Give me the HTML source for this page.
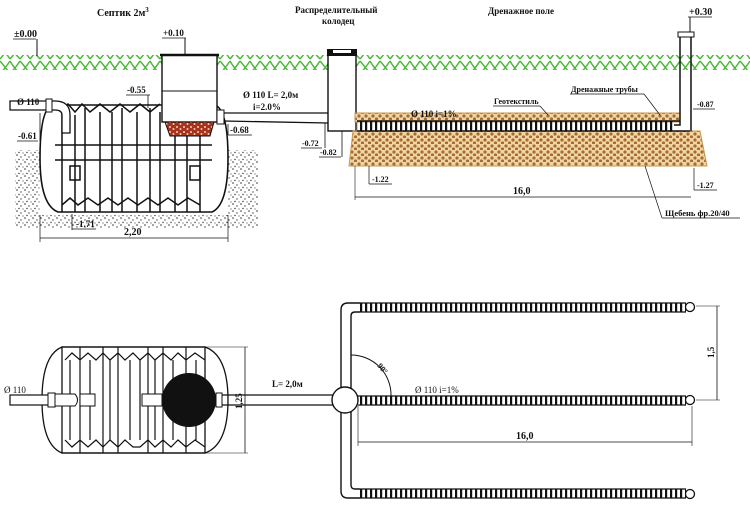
<!DOCTYPE html>
<html><head><meta charset="utf-8"><style>
html,body{margin:0;padding:0;background:#fff;}
svg{display:block;}
text{font-family:"Liberation Serif",serif;font-weight:bold;fill:#111;}
</style></head><body>
<svg width="750" height="506" viewBox="0 0 750 506" xmlns="http://www.w3.org/2000/svg">
<defs>
<pattern id="grass" width="20" height="15" patternUnits="userSpaceOnUse">
<path d="M0,1 Q6,8 10,14 M10,1 Q14,8 20,14 M0,14 Q6,7 10,1 M10,14 Q16,7 20,1" stroke="#4cb83a" stroke-width="1.5" fill="none"/>
</pattern>
<pattern id="grav" width="7" height="6" patternUnits="userSpaceOnUse">
<rect width="7" height="6" fill="#f0d6a4"/>
<circle cx="2" cy="2" r="1.6" fill="#a86a30"/>
<circle cx="5.5" cy="5" r="1.6" fill="#a86a30"/>
</pattern>
<pattern id="red" width="7" height="5" patternUnits="userSpaceOnUse">
<rect width="7" height="5" fill="#a8321e"/>
<circle cx="2" cy="2" r="1" fill="#f3d2b0"/>
<circle cx="5.5" cy="4" r="1" fill="#f3d2b0"/>
</pattern>
<pattern id="rib" width="5" height="12" patternUnits="userSpaceOnUse">
<rect x="0" y="0" width="2.2" height="12" fill="#111"/>
</pattern>
<pattern id="speck" width="8" height="7" patternUnits="userSpaceOnUse">
<circle cx="1" cy="1" r="0.8" fill="#333"/><circle cx="5" cy="3" r="0.7" fill="#444"/>
<circle cx="3" cy="5.5" r="0.7" fill="#333"/><circle cx="7" cy="6" r="0.6" fill="#555"/>
</pattern>
</defs>

<text x="97" y="16" font-size="10">Септик 2м<tspan font-size="7" dy="-4">3</tspan></text>
<text x="295" y="13" font-size="9">Распределительный</text>
<text x="322" y="24" font-size="9">колодец</text>
<text x="488" y="14" font-size="9">Дренажное поле</text>
<text x="689" y="15" font-size="10">+0.30</text>
<line x1="688" y1="17" x2="712" y2="17" stroke="#111" stroke-width="0.8"/>
<line x1="690" y1="17" x2="690" y2="33" stroke="#111"/>

<rect x="0" y="55" width="750" height="15" fill="url(#grass)"/>
<text x="14" y="37" font-size="10">±0.00</text>
<line x1="13" y1="39" x2="36" y2="39" stroke="#111" stroke-width="0.8"/>
<line x1="37" y1="39" x2="37" y2="56" stroke="#111"/>

<path d="M15,150 L40,150 L40,215 L228,215 L228,150 L258,150 L258,228 L15,228 Z" fill="url(#speck)"/>

<path d="M52,105 Q40,110 40,158 Q40,205 58,212 L212,212 Q228,205 228,158 Q228,110 215,105 Z" fill="#fff" stroke="#111" stroke-width="1.6"/>
<g stroke="#111" stroke-width="1.5" fill="none">
<path d="M62,107 L62,212 M75,115 L75,212 M85,108 L85,212 M100,112 L100,212 M112,112 L112,212 M122,108 L122,212 M137,112 L137,212 M150,108 L150,212 M160,112 L160,212 M175,112 L175,212 M187,112 L187,212 M200,108 L200,212"/>
<path d="M60,112 L68,104 L75,112 L82,104 L90,112 L100,104 L110,112 L120,104 L130,112 L140,104 L150,112 L160,104"/>
<path d="M55,145 L212,145 M55,160 L212,160"/>
<path d="M62,205 L70,198 L78,205 L88,198 L98,205 L108,198 L118,205 L128,198 L138,205 L148,198 L158,205 L168,198 L178,205 L188,198 L200,205"/>
<rect x="70" y="166" width="10" height="14"/><rect x="190" y="166" width="10" height="14"/>
</g>
<path d="M10,101 L55,101 Q70,101 70,115 L70,133 L62,133 L62,115 Q62,110 55,110 L10,110 Z" fill="#fff" stroke="#111" stroke-width="1.3"/>
<rect x="46" y="99" width="6" height="13" fill="#fff" stroke="#111"/>
<text x="17" y="105" font-size="9">Ø 110</text>
<text x="18" y="139" font-size="9">-0.61</text>
<line x1="17" y1="141" x2="38" y2="141" stroke="#111" stroke-width="0.8"/>
<line x1="40" y1="113" x2="40" y2="141" stroke="#111" stroke-width="0.8"/>
<rect x="162" y="55" width="55" height="67" fill="#fff" stroke="#111" stroke-width="1.4"/>
<line x1="160" y1="55" x2="219" y2="55" stroke="#111" stroke-width="2.5"/>
<line x1="162" y1="91" x2="217" y2="91" stroke="#111"/>
<path d="M165,122 L214,122 L210,136 L170,136 Z" fill="url(#red)" stroke="#111"/>
<text x="163" y="36" font-size="9">+0.10</text>
<line x1="162" y1="38" x2="186" y2="38" stroke="#111" stroke-width="0.8"/>
<line x1="185" y1="38" x2="185" y2="54" stroke="#111"/>
<text x="127" y="93" font-size="9">-0.55</text>
<line x1="126" y1="95" x2="150" y2="95" stroke="#111" stroke-width="0.8"/>
<line x1="148" y1="95" x2="148" y2="108" stroke="#111" stroke-width="0.8"/>
<rect x="217" y="110" width="7" height="14" fill="#fff" stroke="#111"/>
<path d="M224,113 L328,113 M224,121 L328,123" stroke="#111" stroke-width="1.3"/>
<text x="243" y="98" font-size="9">Ø 110 L= 2,0м</text>
<text x="253" y="110" font-size="9">i=2.0%</text>
<text x="230" y="133" font-size="9">-0.68</text>
<line x1="228" y1="135" x2="252" y2="135" stroke="#111" stroke-width="0.8"/>
<line x1="228" y1="124" x2="228" y2="135" stroke="#111" stroke-width="0.8"/>
<line x1="40" y1="215" x2="40" y2="242" stroke="#111" stroke-width="0.7"/>
<line x1="228" y1="215" x2="228" y2="242" stroke="#111" stroke-width="0.7"/>
<line x1="40" y1="238" x2="228" y2="238" stroke="#111" stroke-width="0.8"/>
<text x="124" y="235" font-size="10">2,20</text>
<text x="76" y="227" font-size="9">-1.71</text>
<line x1="72" y1="214" x2="72" y2="230" stroke="#111" stroke-width="0.8"/>
<line x1="72" y1="229" x2="96" y2="229" stroke="#111" stroke-width="0.8"/>

<rect x="328" y="55" width="28" height="76" fill="#fff" stroke="#111" stroke-width="1.4"/>
<rect x="327" y="49" width="30" height="7" fill="#111"/>
<rect x="333" y="50" width="18" height="3" fill="#fff"/>
<text x="302" y="146" font-size="8">-0.72</text>
<line x1="301" y1="148" x2="322" y2="148" stroke="#111" stroke-width="0.8"/>
<line x1="325" y1="123" x2="325" y2="148" stroke="#111" stroke-width="0.8"/>
<text x="320" y="155" font-size="8">-0.82</text>
<line x1="319" y1="157" x2="341" y2="157" stroke="#111" stroke-width="0.8"/>
<line x1="342" y1="131" x2="342" y2="157" stroke="#111" stroke-width="0.8"/>

<path d="M353,131 L700,131 L707,166 L349,166 Z" fill="url(#grav)" stroke="#c9964f"/>
<rect x="355" y="113" width="325" height="9" fill="url(#grav)" stroke="#c9964f"/>
<rect x="357" y="121" width="317" height="10" fill="url(#rib)"/>
<line x1="357" y1="121" x2="680" y2="121" stroke="#111" stroke-width="1.5"/>
<line x1="357" y1="131" x2="690" y2="131" stroke="#111" stroke-width="1.5"/>
<path d="M680,33 L680,125 L674,125 M691,33 L691,131" stroke="#111" stroke-width="1.5" fill="none"/>
<rect x="678" y="32" width="16" height="5" fill="#fff" stroke="#111"/>
<text x="411" y="117" font-size="9">Ø 110 i=1%</text>
<text x="494" y="104" font-size="8">Геотекстиль</text>
<line x1="493" y1="106" x2="540" y2="106" stroke="#111" stroke-width="0.7"/>
<line x1="540" y1="106" x2="548" y2="115" stroke="#111" stroke-width="0.7"/>
<text x="571" y="92" font-size="8">Дренажные трубы</text>
<line x1="570" y1="94" x2="644" y2="94" stroke="#111" stroke-width="0.7"/>
<line x1="644" y1="94" x2="660" y2="115" stroke="#111" stroke-width="0.7"/>
<text x="697" y="107" font-size="8">-0.87</text>
<line x1="693" y1="109" x2="715" y2="109" stroke="#111" stroke-width="0.7"/>
<text x="372" y="182" font-size="8">-1.22</text>
<line x1="369" y1="166" x2="369" y2="184" stroke="#111" stroke-width="0.7"/>
<line x1="369" y1="184" x2="392" y2="184" stroke="#111" stroke-width="0.7"/>
<text x="697" y="188" font-size="8">-1.27</text>
<line x1="694" y1="168" x2="694" y2="190" stroke="#111" stroke-width="0.7"/>
<line x1="694" y1="190" x2="717" y2="190" stroke="#111" stroke-width="0.7"/>
<line x1="355" y1="166" x2="355" y2="200" stroke="#111" stroke-width="0.6"/>
<line x1="355" y1="197" x2="691" y2="197" stroke="#111" stroke-width="0.8"/>
<text x="513" y="194" font-size="10">16,0</text>
<text x="665" y="216" font-size="8.5">Щебень фр.20/40</text>
<line x1="662" y1="218" x2="740" y2="218" stroke="#111" stroke-width="0.7"/>
<line x1="662" y1="218" x2="645" y2="166" stroke="#111" stroke-width="0.7"/>

<path d="M62,347 Q42,355 42,400 Q42,445 62,453 L205,453 Q228,445 228,400 Q228,355 205,347 Z" fill="#fff" stroke="#111" stroke-width="1.3"/>
<rect x="62" y="347" width="143" height="106" fill="none" stroke="#111" stroke-width="1.3"/>
<g stroke="#111" stroke-width="1.2" fill="none">
<path d="M80,347 V453 M103,347 V453 M118,347 V453 M148,347 V453 M163,347 V453 M186,347 V453"/>
<path d="M65,360 L72,353 L80,360 L88,353 L96,360 L103,353 L110,360 L118,353 L125,360 L133,353 L140,360 L148,353 L155,360 L163,353 L171,360 L178,353 L186,360 L195,353 L205,360"/>
<path d="M65,440 L72,447 L80,440 L88,447 L96,440 L103,447 L110,440 L118,447 L125,440 L133,447 L140,447 L148,440 L155,447 L163,440 L171,447 L178,440 L186,447 L195,440 L205,447"/>
<path d="M70,360 V440 M90,360 V440 M110,360 V440 M130,360 V440 M140,360 V440 M155,360 V440 M173,360 V440 M196,360 V440"/>
</g>
<rect x="10" y="395" width="40" height="10" fill="#fff" stroke="#111" stroke-width="1.2"/>
<rect x="48" y="393" width="7" height="14" fill="#fff" stroke="#111"/>
<path d="M55,394 L75,394 Q80,400 75,406 L55,406 Z" fill="#fff" stroke="#111"/>
<rect x="80" y="394" width="15" height="12" fill="#fff" stroke="#111"/>
<rect x="142" y="394" width="20" height="12" fill="#fff" stroke="#111"/>
<text x="4" y="393" font-size="9" style="font-weight:normal">Ø 110</text>
<circle cx="189" cy="400" r="27" fill="#111"/>
<rect x="216" y="393" width="6" height="14" fill="#fff" stroke="#111"/>
<line x1="222" y1="395" x2="333" y2="395" stroke="#111" stroke-width="1.3"/>
<line x1="222" y1="405" x2="333" y2="405" stroke="#111" stroke-width="1.3"/>
<text x="272" y="387" font-size="9">L= 2,0м</text>
<line x1="205" y1="347" x2="248" y2="347" stroke="#111" stroke-width="0.6"/>
<line x1="205" y1="453" x2="248" y2="453" stroke="#111" stroke-width="0.6"/>
<line x1="245" y1="347" x2="245" y2="453" stroke="#111" stroke-width="0.8"/>
<text x="0" y="0" font-size="9" transform="translate(242,409) rotate(-90)">1,25</text>

<path d="M360,303 L348,303 Q341,303 341,310 L341,491 Q341,498 348,498 L360,498" fill="none" stroke="#111" stroke-width="1.4"/>
<path d="M360,312 L355,312 Q351,312 351,316 L351,485 Q351,489 355,489 L360,489" fill="none" stroke="#111" stroke-width="1.4"/>
<g>
<rect x="360" y="303" width="326" height="9" fill="url(#rib)"/>
<line x1="360" y1="303" x2="686" y2="303" stroke="#111" stroke-width="1.3"/>
<line x1="360" y1="312" x2="686" y2="312" stroke="#111" stroke-width="1.3"/>
<circle cx="690" cy="307" r="4.5" fill="#fff" stroke="#111" stroke-width="1.3"/>
<rect x="358" y="396" width="328" height="9" fill="url(#rib)"/>
<line x1="358" y1="396" x2="686" y2="396" stroke="#111" stroke-width="1.3"/>
<line x1="358" y1="405" x2="686" y2="405" stroke="#111" stroke-width="1.3"/>
<circle cx="690" cy="400" r="4.5" fill="#fff" stroke="#111" stroke-width="1.3"/>
<rect x="360" y="489" width="326" height="9" fill="url(#rib)"/>
<line x1="360" y1="489" x2="686" y2="489" stroke="#111" stroke-width="1.3"/>
<line x1="360" y1="498" x2="686" y2="498" stroke="#111" stroke-width="1.3"/>
<circle cx="690" cy="494" r="4.5" fill="#fff" stroke="#111" stroke-width="1.3"/>
</g>
<circle cx="345" cy="400" r="13" fill="#fff" stroke="#111" stroke-width="1.4"/>
<path d="M351,355 A40,40 0 0 1 391,396" fill="none" stroke="#111" stroke-width="1"/>
<text x="0" y="0" font-size="8" transform="translate(377,366) rotate(50)">90°</text>
<text x="415" y="393" font-size="9" style="font-weight:normal">Ø 110 i=1%</text>
<line x1="696" y1="306" x2="720" y2="306" stroke="#111" stroke-width="0.6"/>
<line x1="696" y1="400" x2="720" y2="400" stroke="#111" stroke-width="0.6"/>
<line x1="717" y1="306" x2="717" y2="400" stroke="#111" stroke-width="0.8"/>
<text x="0" y="0" font-size="9" transform="translate(714,358) rotate(-90)">1,5</text>
<line x1="358" y1="406" x2="358" y2="446" stroke="#111" stroke-width="0.6"/>
<line x1="692" y1="406" x2="692" y2="446" stroke="#111" stroke-width="0.6"/>
<line x1="358" y1="442" x2="692" y2="442" stroke="#111" stroke-width="0.8"/>
<text x="516" y="439" font-size="10">16,0</text>
</svg>
</body></html>
